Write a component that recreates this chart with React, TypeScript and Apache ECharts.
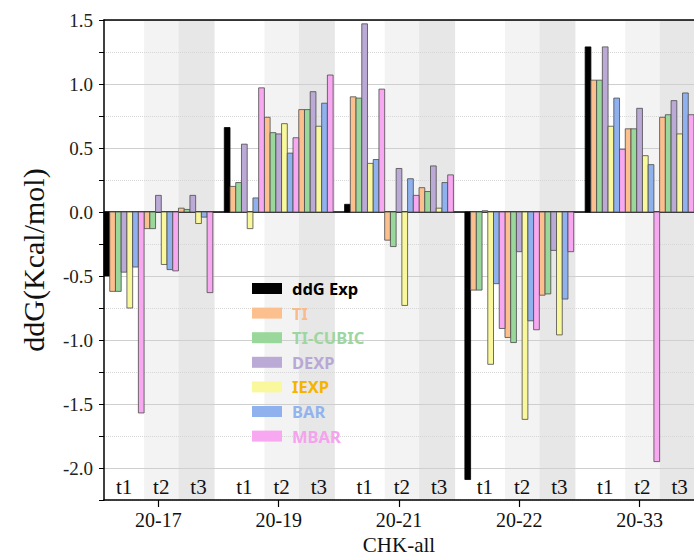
import React, { useEffect, useRef } from 'react';
import * as echarts from 'echarts';

// ---------- data ----------
const groups = ['20-17', '20-19', '20-21', '20-22', '20-33'];
const subLabels = ['t1', 't2', 't3'];
const seriesNames = ['ddG Exp', 'TI', 'TI-CUBIC', 'DEXP', 'IEXP', 'BAR', 'MBAR'];
const yAxisName = 'ddG(Kcal/mol)';
const xAxisName = 'CHK-all';

// experimental value, one per group
const expValues = [-0.5, 0.66, 0.06, -2.09, 1.29];
// method values, ordered: group1 t1,t2,t3, group2 t1,t2,t3, ...
const tiValues = [-0.62, -0.13, 0.03, 0.2, 0.74, 0.8, 0.9, -0.22, 0.19, -0.61, -0.98, -0.65, 1.03, 0.65, 0.74];
const tiCubicValues = [-0.62, -0.13, 0.02, 0.23, 0.62, 0.8, 0.89, -0.27, 0.16, -0.61, -1.02, -0.64, 1.03, 0.65, 0.76];
const dexpValues = [-0.47, 0.13, 0.13, 0.53, 0.61, 0.94, 1.47, 0.34, 0.36, 0.01, -0.31, -0.3, 1.29, 0.81, 0.87];
const iexpValues = [-0.75, -0.41, -0.09, -0.13, 0.69, 0.67, 0.38, -0.73, 0.03, -1.19, -1.62, -0.96, 0.67, 0.44, 0.61];
const barValues = [-0.43, -0.45, -0.04, 0.11, 0.46, 0.85, 0.41, 0.26, 0.23, -0.56, -0.85, -0.68, 0.89, 0.37, 0.93];
const mbarValues = [-1.57, -0.46, -0.63, 0.97, 0.58, 1.07, 0.96, 0.13, 0.29, -0.91, -0.92, -0.31, 0.49, -1.95, 0.76];
const methodValues = [tiValues, tiCubicValues, dexpValues, iexpValues, barValues, mbarValues];

// ---------- styles ----------
const barColors = ['#000000', '#FCC08F', '#9AD79B', '#BBAAD5', '#FAF89C', '#8FB2EE', '#F8A8F1'];
const legendTextColors = ['#000000', '#F8BC8C', '#9DD69E', '#B8A8D6', '#F5B400', '#93B3EE', '#F6A2EE'];
const shadeColors = ['#f3f3f3', '#e7e7e7'];

// ---------- layout helpers (slots) ----------
const SLOTS_PER_GROUP = 21;
const BARS_PER_GROUP = 19;
const subStart = [1, 7, 13]; // first method slot of t1, t2, t3
const totalSlots = (groups.length - 1) * SLOTS_PER_GROUP + BARS_PER_GROUP;
const nPoints = totalSlots * 2 + 1; // half-slot points for label axes
const groupCenter = 9.5;
const subCenters = [3.5, 10, 16.5];

const groupLabelAt: Record<number, string> = {};
groups.forEach((g, i) => {
  groupLabelAt[Math.round((i * SLOTS_PER_GROUP + groupCenter) * 2)] = g;
});
const subLabelAt: Record<number, string> = {};
groups.forEach((_, i) => {
  subLabels.forEach((t, k) => {
    subLabelAt[Math.round((i * SLOTS_PER_GROUP + subCenters[k]) * 2)] = t;
  });
});
const pointCats = Array.from({ length: nPoints }, (_, j) => String(j));

function seriesData(si: number): number[][] {
  if (si === 0) return expValues.map((v, g) => [g * SLOTS_PER_GROUP, v]);
  const vals = methodValues[si - 1];
  return vals.map((v, i) => {
    const g = Math.floor(i / 3);
    const k = i % 3;
    return [g * SLOTS_PER_GROUP + subStart[k] + (si - 1), v];
  });
}

const shadeData: number[][] = [];
groups.forEach((_, g) => {
  const b = g * SLOTS_PER_GROUP;
  shadeData.push([b + 7, b + 13, 0]);
  shadeData.push([b + 13, Math.min(b + 19.3, totalSlots), 1]);
});

const Y_MIN = -2.25;
const Y_MAX = 1.5;
const serif = 'Liberation Serif';

export default function App() {
  const ref = useRef<HTMLDivElement>(null);
  useEffect(() => {
    if (!ref.current) return;
    const chart = echarts.init(ref.current, null, { renderer: 'svg' });

    const barSeries = seriesNames.map((name, si) => ({
      name,
      type: 'custom',
      xAxisIndex: 0,
      yAxisIndex: 0,
      z: 3,
      itemStyle: { color: barColors[si] },
      encode: { x: 0, y: 1 },
      data: seriesData(si),
      renderItem: (params: any, api: any) => {
        const x = api.value(0);
        const v = api.value(1);
        const a = api.coord([x, 0]);
        const b = api.coord([x + 1, v]);
        return {
          type: 'rect',
          shape: {
            x: a[0],
            y: Math.min(a[1], b[1]),
            width: b[0] - a[0],
            height: Math.abs(b[1] - a[1]),
          },
          style: { fill: barColors[si], stroke: si === 0 ? '#000' : '#4a4a4a', lineWidth: 0.8 },
        };
      },
    }));

    const shadeSeries = {
      name: 'shade',
      type: 'custom',
      xAxisIndex: 0,
      yAxisIndex: 0,
      z: -1,
      silent: true,
      encode: { x: [0, 1] },
      data: shadeData,
      renderItem: (params: any, api: any) => {
        const a = api.coord([api.value(0), Y_MAX]);
        const b = api.coord([api.value(1), Y_MIN]);
        return {
          type: 'rect',
          shape: { x: a[0], y: a[1], width: b[0] - a[0], height: b[1] - a[1] },
          style: { fill: shadeColors[api.value(2)] },
        };
      },
    };

    chart.setOption({
      animation: false,
      backgroundColor: '#ffffff',
      grid: { left: 104, right: 0, top: 20, bottom: 56, containLabel: false, outerBoundsMode: 'none' },
      legend: {
        orient: 'vertical',
        left: 252,
        top: 280,
        padding: 0,
        itemWidth: 30,
        itemHeight: 11,
        itemGap: 7.6,
        icon: 'rect',
        selectedMode: false,
        itemStyle: { borderWidth: 0 },
        textStyle: {
          fontSize: 16.5,
          fontWeight: 'bold',
          fontFamily: 'Noto Sans',
          lineHeight: 16,
          padding: [0, 0, 0, 5],
        },
        data: seriesNames.map((n, i) => ({ name: n, textStyle: { color: legendTextColors[i] } })),
      },
      xAxis: [
        {
          type: 'value',
          min: 0,
          max: totalSlots,
          position: 'bottom',
          axisLine: { show: true, onZero: true, lineStyle: { color: '#000', width: 1.5 } },
          axisTick: { show: false },
          axisLabel: { show: false },
          splitLine: { show: false },
        },
        {
          type: 'category',
          data: pointCats,
          boundaryGap: false,
          position: 'bottom',
          axisLine: { show: true, onZero: false, lineStyle: { color: '#000', width: 1.5 } },
          axisTick: {
            show: true,
            length: 7,
            interval: (idx: number) => groupLabelAt[idx] !== undefined,
            lineStyle: { color: '#000', width: 1.2 },
          },
          axisLabel: {
            show: true,
            interval: (idx: number) => groupLabelAt[idx] !== undefined,
            formatter: (_v: string, idx: number) => groupLabelAt[idx] ?? '',
            fontSize: 20,
            fontFamily: serif,
            color: '#111',
            margin: 10,
          },
          splitLine: { show: false },
          name: xAxisName,
          nameLocation: 'middle',
          nameGap: 29,
          nameTextStyle: { fontSize: 21, fontFamily: serif, color: '#111', lineHeight: 21 },
        },
        {
          type: 'category',
          data: pointCats,
          boundaryGap: false,
          position: 'bottom',
          axisLine: { show: false, onZero: false },
          axisTick: { show: false },
          axisLabel: {
            show: true,
            inside: true,
            interval: (idx: number) => subLabelAt[idx] !== undefined,
            formatter: (_v: string, idx: number) => subLabelAt[idx] ?? '',
            fontSize: 21,
            fontFamily: serif,
            color: '#111',
            margin: 3,
          },
          splitLine: { show: false },
        },
        {
          type: 'value',
          min: 0,
          max: totalSlots,
          position: 'top',
          axisLine: { show: true, onZero: false, lineStyle: { color: '#000', width: 1.5 } },
          axisTick: { show: false },
          axisLabel: { show: false },
          splitLine: { show: false },
        },
      ],
      yAxis: [
        {
          type: 'value',
          min: Y_MIN,
          max: Y_MAX,
          interval: 0.25,
          position: 'left',
          name: yAxisName,
          nameLocation: 'middle',
          nameGap: 56,
          nameTextStyle: { fontSize: 30, fontFamily: serif, color: '#111' },
          axisLine: { show: true, onZero: false, lineStyle: { color: '#000', width: 1.5 } },
          axisTick: { show: true, inside: false, length: 5, lineStyle: { color: '#000', width: 1 } },
          axisLabel: {
            fontSize: 19,
            fontFamily: serif,
            color: '#222',
            margin: 11,
            formatter: (v: number) => {
              const d = v * 2;
              return Math.abs(d - Math.round(d)) < 1e-6 ? v.toFixed(1) : '';
            },
          },
          splitLine: { show: true, lineStyle: { color: ['rgba(0,0,0,0)', '#cfcfcf'], width: 1 } },
        },
        {
          type: 'value',
          min: Y_MIN,
          max: Y_MAX,
          interval: 0.25,
          position: 'right',
          axisLine: { show: false },
          axisTick: { show: false },
          axisLabel: { show: false },
          splitLine: { show: true, lineStyle: { color: ['#d6d6d6', 'rgba(0,0,0,0)'], type: 'dotted', width: 1 } },
        },
      ],
      series: [shadeSeries, ...barSeries],
    });
    return () => chart.dispose();
  }, []);
  return <div ref={ref} style={{ width: 694, height: 556, position: 'absolute', left: 0, top: 0 }} />;
}
